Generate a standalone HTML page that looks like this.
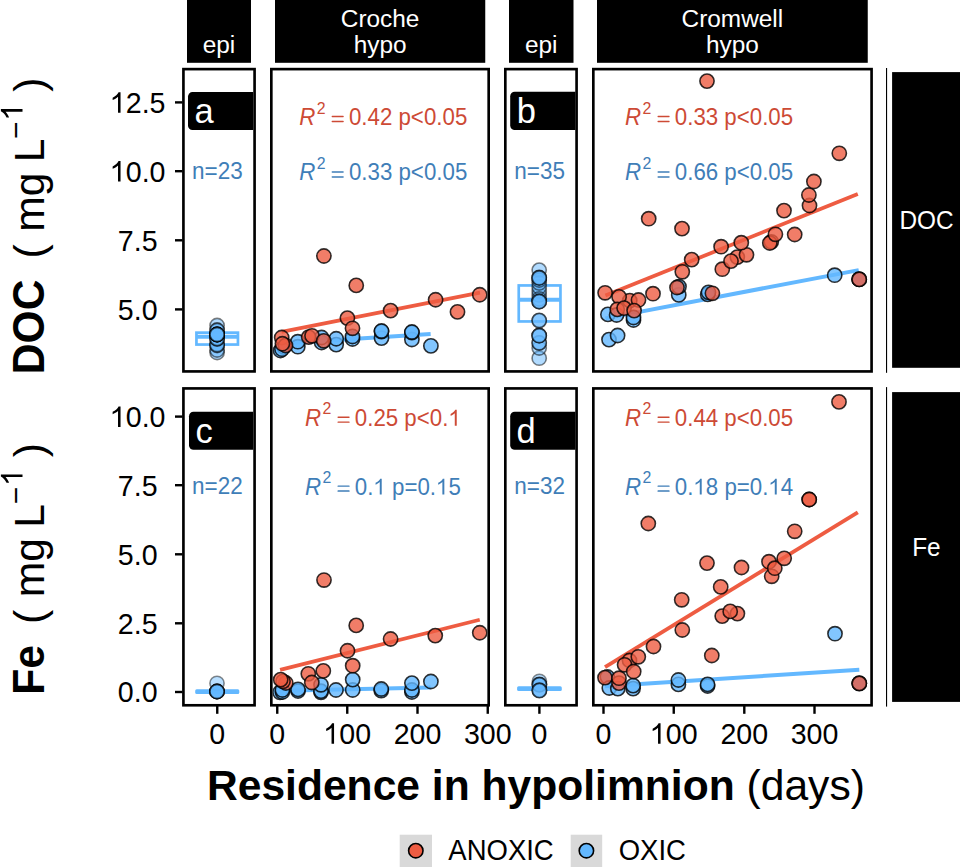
<!DOCTYPE html>
<html><head><meta charset="utf-8"><title>Residence in hypolimnion</title>
<style>html,body{margin:0;padding:0;background:#fff;}svg{display:block;font-family:"Liberation Sans", sans-serif;}</style></head><body>
<svg width="960" height="867" viewBox="0 0 960 867">
<rect x="0" y="0" width="960" height="867" fill="#fff"/>
<defs>
<clipPath id="c00"><rect x="184.75" y="70.45" width="68.50000000000001" height="299.65"/></clipPath>
<clipPath id="c01"><rect x="184.75" y="389.75" width="68.50000000000001" height="314.2"/></clipPath>
<clipPath id="c10"><rect x="272.65" y="70.45" width="214.7" height="299.65"/></clipPath>
<clipPath id="c11"><rect x="272.65" y="389.75" width="214.7" height="314.2"/></clipPath>
<clipPath id="c20"><rect x="506.65" y="70.45" width="68.59999999999998" height="299.65"/></clipPath>
<clipPath id="c21"><rect x="506.65" y="389.75" width="68.59999999999998" height="314.2"/></clipPath>
<clipPath id="c30"><rect x="594.65" y="70.45" width="275.59999999999997" height="299.65"/></clipPath>
<clipPath id="c31"><rect x="594.65" y="389.75" width="275.59999999999997" height="314.2"/></clipPath>
</defs>
<rect x="187" y="0" width="64" height="62.8" fill="#000"/>
<text x="219.0" y="52.9" font-size="24.4" fill="#fff" text-anchor="middle"  style="white-space:pre">epi</text>
<rect x="275" y="0" width="210.25" height="62.8" fill="#000"/>
<text x="380.125" y="27.0" font-size="24.4" fill="#fff" text-anchor="middle"  style="white-space:pre">Croche</text>
<text x="380.125" y="52.9" font-size="24.4" fill="#fff" text-anchor="middle"  style="white-space:pre">hypo</text>
<rect x="509" y="0" width="64.5" height="62.8" fill="#000"/>
<text x="541.25" y="52.9" font-size="24.4" fill="#fff" text-anchor="middle"  style="white-space:pre">epi</text>
<rect x="597" y="0" width="270.75" height="62.8" fill="#000"/>
<text x="732.375" y="27.0" font-size="24.4" fill="#fff" text-anchor="middle"  style="white-space:pre">Cromwell</text>
<text x="732.375" y="52.9" font-size="24.4" fill="#fff" text-anchor="middle"  style="white-space:pre">hypo</text>
<rect x="892.1" y="72.1" width="80" height="295.7" fill="#000"/>
<rect x="892.1" y="392.1" width="80" height="309.8" fill="#000"/>
<text x="926.5" y="228.7" font-size="24.4" fill="#fff" text-anchor="middle"  style="white-space:pre" transform="matrix(1 0 0 1.0407 0 -9.308)">DOC</text>
<text x="926.4" y="556" font-size="24.4" fill="#fff" text-anchor="middle"  style="white-space:pre" transform="matrix(1 0 0 1.0407 0 -22.629)">Fe</text>
<rect x="886" y="68" width="1.1" height="304.8" fill="#000"/>
<rect x="886" y="387.1" width="1.1" height="319.5" fill="#000"/>
<g fill="none" stroke="#63B8FF">
<rect x="196.45" y="332.65" width="41.5" height="11.9" stroke-width="2.7"/>
<line x1="196.45" y1="336.8" x2="237.95" y2="336.8" stroke-width="4"/>
<rect x="518.75" y="285.45" width="41.7" height="36.0" stroke-width="2.7"/>
<line x1="518.75" y1="299.8" x2="560.45" y2="299.8" stroke-width="4"/>
</g>
<rect x="195.2" y="689.2" width="44.1" height="4.7" rx="1.5" fill="#63B8FF"/>
<rect x="517.1" y="686.3" width="44.7" height="4.7" rx="1.5" fill="#63B8FF"/>
<circle cx="217.1" cy="325.5" r="7.12" fill="#63B8FF" fill-opacity="0.5" stroke="#000" stroke-opacity="0.5" stroke-width="1.6"/>
<circle cx="217.1" cy="352.5" r="7.12" fill="#63B8FF" fill-opacity="0.5" stroke="#000" stroke-opacity="0.5" stroke-width="1.6"/>
<circle cx="217.1" cy="350" r="7.12" fill="#63B8FF" fill-opacity="0.5" stroke="#000" stroke-opacity="0.5" stroke-width="1.6"/>
<circle cx="217.1" cy="345" r="7.12" fill="#63B8FF" fill-opacity="0.5" stroke="#000" stroke-opacity="0.5" stroke-width="1.6"/>
<circle cx="217.1" cy="345.5" r="7.12" fill="#63B8FF" fill-opacity="0.5" stroke="#000" stroke-opacity="0.5" stroke-width="1.6"/>
<circle cx="217.1" cy="344.5" r="7.12" fill="#63B8FF" fill-opacity="0.5" stroke="#000" stroke-opacity="0.5" stroke-width="1.6"/>
<circle cx="217.1" cy="330" r="7.12" fill="#63B8FF" fill-opacity="0.5" stroke="#000" stroke-opacity="0.5" stroke-width="1.6"/>
<circle cx="217.1" cy="330.5" r="7.12" fill="#63B8FF" fill-opacity="0.5" stroke="#000" stroke-opacity="0.5" stroke-width="1.6"/>
<circle cx="217.1" cy="338.7" r="7.12" fill="#63B8FF" fill-opacity="0.5" stroke="#000" stroke-opacity="0.5" stroke-width="1.6"/>
<circle cx="217.1" cy="339" r="7.12" fill="#63B8FF" fill-opacity="0.5" stroke="#000" stroke-opacity="0.5" stroke-width="1.6"/>
<circle cx="217.1" cy="338.4" r="7.12" fill="#63B8FF" fill-opacity="0.5" stroke="#000" stroke-opacity="0.5" stroke-width="1.6"/>
<circle cx="217.1" cy="334.5" r="7.12" fill="#63B8FF" fill-opacity="0.5" stroke="#000" stroke-opacity="0.5" stroke-width="1.6"/>
<circle cx="217.1" cy="334.5" r="7.12" fill="#63B8FF" fill-opacity="0.5" stroke="#000" stroke-opacity="0.5" stroke-width="1.6"/>
<circle cx="217.1" cy="334.3" r="7.12" fill="#63B8FF" fill-opacity="0.5" stroke="#000" stroke-opacity="0.5" stroke-width="1.6"/>
<circle cx="217.1" cy="334.7" r="7.12" fill="#63B8FF" fill-opacity="0.5" stroke="#000" stroke-opacity="0.5" stroke-width="1.6"/>
<circle cx="217.1" cy="334.5" r="7.12" fill="#63B8FF" fill-opacity="0.5" stroke="#000" stroke-opacity="0.5" stroke-width="1.6"/>
<circle cx="217.1" cy="334.5" r="7.12" fill="#63B8FF" fill-opacity="0.5" stroke="#000" stroke-opacity="0.5" stroke-width="1.6"/>
<circle cx="217.1" cy="334.5" r="7.12" fill="#63B8FF" fill-opacity="0.5" stroke="#000" stroke-opacity="0.5" stroke-width="1.6"/>
<circle cx="539.2" cy="270.1" r="7.12" fill="#63B8FF" fill-opacity="0.5" stroke="#000" stroke-opacity="0.5" stroke-width="1.6"/>
<circle cx="539.2" cy="358.2" r="7.12" fill="#63B8FF" fill-opacity="0.5" stroke="#000" stroke-opacity="0.5" stroke-width="1.6"/>
<circle cx="539.2" cy="348" r="7.12" fill="#63B8FF" fill-opacity="0.5" stroke="#000" stroke-opacity="0.5" stroke-width="1.6"/>
<circle cx="539.2" cy="343" r="7.12" fill="#63B8FF" fill-opacity="0.5" stroke="#000" stroke-opacity="0.5" stroke-width="1.6"/>
<circle cx="539.2" cy="342.8" r="7.12" fill="#63B8FF" fill-opacity="0.5" stroke="#000" stroke-opacity="0.5" stroke-width="1.6"/>
<circle cx="539.2" cy="335.5" r="7.12" fill="#63B8FF" fill-opacity="0.5" stroke="#000" stroke-opacity="0.5" stroke-width="1.6"/>
<circle cx="539.2" cy="335.5" r="7.12" fill="#63B8FF" fill-opacity="0.5" stroke="#000" stroke-opacity="0.5" stroke-width="1.6"/>
<circle cx="539.2" cy="335.7" r="7.12" fill="#63B8FF" fill-opacity="0.5" stroke="#000" stroke-opacity="0.5" stroke-width="1.6"/>
<circle cx="539.2" cy="320.3" r="7.12" fill="#63B8FF" fill-opacity="0.5" stroke="#000" stroke-opacity="0.5" stroke-width="1.6"/>
<circle cx="539.2" cy="320.6" r="7.12" fill="#63B8FF" fill-opacity="0.5" stroke="#000" stroke-opacity="0.5" stroke-width="1.6"/>
<circle cx="539.2" cy="295" r="7.12" fill="#63B8FF" fill-opacity="0.5" stroke="#000" stroke-opacity="0.5" stroke-width="1.6"/>
<circle cx="539.2" cy="291" r="7.12" fill="#63B8FF" fill-opacity="0.5" stroke="#000" stroke-opacity="0.5" stroke-width="1.6"/>
<circle cx="539.2" cy="287" r="7.12" fill="#63B8FF" fill-opacity="0.5" stroke="#000" stroke-opacity="0.5" stroke-width="1.6"/>
<circle cx="539.2" cy="283" r="7.12" fill="#63B8FF" fill-opacity="0.5" stroke="#000" stroke-opacity="0.5" stroke-width="1.6"/>
<circle cx="539.2" cy="280" r="7.12" fill="#63B8FF" fill-opacity="0.5" stroke="#000" stroke-opacity="0.5" stroke-width="1.6"/>
<circle cx="539.2" cy="299" r="7.12" fill="#63B8FF" fill-opacity="0.5" stroke="#000" stroke-opacity="0.5" stroke-width="1.6"/>
<circle cx="539.2" cy="301.5" r="7.12" fill="#63B8FF" fill-opacity="0.5" stroke="#000" stroke-opacity="0.5" stroke-width="1.6"/>
<circle cx="539.2" cy="301.5" r="7.12" fill="#63B8FF" fill-opacity="0.5" stroke="#000" stroke-opacity="0.5" stroke-width="1.6"/>
<circle cx="539.2" cy="301.6" r="7.12" fill="#63B8FF" fill-opacity="0.5" stroke="#000" stroke-opacity="0.5" stroke-width="1.6"/>
<circle cx="539.2" cy="277.5" r="7.12" fill="#63B8FF" fill-opacity="0.5" stroke="#000" stroke-opacity="0.5" stroke-width="1.6"/>
<circle cx="539.2" cy="277.7" r="7.12" fill="#63B8FF" fill-opacity="0.5" stroke="#000" stroke-opacity="0.5" stroke-width="1.6"/>
<circle cx="539.2" cy="278" r="7.12" fill="#63B8FF" fill-opacity="0.5" stroke="#000" stroke-opacity="0.5" stroke-width="1.6"/>
<circle cx="217" cy="683.3" r="7.12" fill="#63B8FF" fill-opacity="0.45" stroke="#000" stroke-opacity="0.45" stroke-width="1.6"/>
<circle cx="217" cy="691.5" r="7.12" fill="#63B8FF" fill-opacity="0.6" stroke="#000" stroke-opacity="0.6" stroke-width="1.6"/>
<circle cx="217" cy="691.5" r="7.12" fill="#63B8FF" fill-opacity="0.6" stroke="#000" stroke-opacity="0.6" stroke-width="1.6"/>
<circle cx="217" cy="691.5" r="7.12" fill="#63B8FF" fill-opacity="0.6" stroke="#000" stroke-opacity="0.6" stroke-width="1.6"/>
<circle cx="217" cy="691.5" r="7.12" fill="#63B8FF" fill-opacity="0.6" stroke="#000" stroke-opacity="0.6" stroke-width="1.6"/>
<circle cx="539.4" cy="681.3" r="7.12" fill="#63B8FF" fill-opacity="0.45" stroke="#000" stroke-opacity="0.45" stroke-width="1.6"/>
<circle cx="539.4" cy="684.3" r="7.12" fill="#63B8FF" fill-opacity="0.5" stroke="#000" stroke-opacity="0.5" stroke-width="1.6"/>
<circle cx="539.4" cy="684.6" r="7.12" fill="#63B8FF" fill-opacity="0.5" stroke="#000" stroke-opacity="0.5" stroke-width="1.6"/>
<circle cx="539.4" cy="684.8" r="7.12" fill="#63B8FF" fill-opacity="0.5" stroke="#000" stroke-opacity="0.5" stroke-width="1.6"/>
<circle cx="539.4" cy="690.2" r="7.12" fill="#63B8FF" fill-opacity="0.5" stroke="#000" stroke-opacity="0.5" stroke-width="1.6"/>
<circle cx="539.4" cy="690.4" r="7.12" fill="#63B8FF" fill-opacity="0.5" stroke="#000" stroke-opacity="0.5" stroke-width="1.6"/>
<circle cx="539.4" cy="690.6" r="7.12" fill="#63B8FF" fill-opacity="0.5" stroke="#000" stroke-opacity="0.5" stroke-width="1.6"/>
<line x1="281" y1="343.5" x2="430.6" y2="334.0" stroke="#63B8FF" stroke-width="4.0" stroke-linecap="butt"/>
<line x1="281.5" y1="331.9" x2="480" y2="292.6" stroke="#EE5C42" stroke-width="3.8" stroke-linecap="butt"/>
<line x1="605.4" y1="318.4" x2="858.7" y2="270.1" stroke="#63B8FF" stroke-width="4.0" stroke-linecap="butt"/>
<line x1="605.4" y1="295.6" x2="857.8" y2="193.9" stroke="#EE5C42" stroke-width="3.8" stroke-linecap="butt"/>
<line x1="281" y1="690.8" x2="430.6" y2="687.5" stroke="#63B8FF" stroke-width="4.0" stroke-linecap="butt"/>
<line x1="280.1" y1="669.8" x2="479.75" y2="619.75" stroke="#EE5C42" stroke-width="3.8" stroke-linecap="butt"/>
<line x1="605" y1="686.3" x2="859.3" y2="669.8" stroke="#63B8FF" stroke-width="4.0" stroke-linecap="butt"/>
<line x1="605" y1="667.2" x2="857.8" y2="512.4" stroke="#EE5C42" stroke-width="3.8" stroke-linecap="butt"/>
<g clip-path="url(#c10)">
<circle cx="280.5" cy="350.5" r="7.12" fill="#63B8FF" fill-opacity="0.8" stroke="#000" stroke-opacity="0.8" stroke-width="1.6"/>
<circle cx="284" cy="347" r="7.12" fill="#63B8FF" fill-opacity="0.8" stroke="#000" stroke-opacity="0.8" stroke-width="1.6"/>
<circle cx="282" cy="349.2" r="7.12" fill="#63B8FF" fill-opacity="0.8" stroke="#000" stroke-opacity="0.8" stroke-width="1.6"/>
<circle cx="297.8" cy="346.7" r="7.12" fill="#63B8FF" fill-opacity="0.8" stroke="#000" stroke-opacity="0.8" stroke-width="1.6"/>
<circle cx="297.8" cy="341.7" r="7.12" fill="#63B8FF" fill-opacity="0.8" stroke="#000" stroke-opacity="0.8" stroke-width="1.6"/>
<circle cx="321.6" cy="342.5" r="7.12" fill="#63B8FF" fill-opacity="0.8" stroke="#000" stroke-opacity="0.8" stroke-width="1.6"/>
<circle cx="321.6" cy="337.5" r="7.12" fill="#63B8FF" fill-opacity="0.8" stroke="#000" stroke-opacity="0.8" stroke-width="1.6"/>
<circle cx="336.2" cy="344.6" r="7.12" fill="#63B8FF" fill-opacity="0.8" stroke="#000" stroke-opacity="0.8" stroke-width="1.6"/>
<circle cx="336.2" cy="338.75" r="7.12" fill="#63B8FF" fill-opacity="0.8" stroke="#000" stroke-opacity="0.8" stroke-width="1.6"/>
<circle cx="352.5" cy="339" r="7.12" fill="#63B8FF" fill-opacity="0.8" stroke="#000" stroke-opacity="0.8" stroke-width="1.6"/>
<circle cx="352.5" cy="336.5" r="7.12" fill="#63B8FF" fill-opacity="0.8" stroke="#000" stroke-opacity="0.8" stroke-width="1.6"/>
<circle cx="381.5" cy="338.1" r="7.12" fill="#63B8FF" fill-opacity="0.8" stroke="#000" stroke-opacity="0.8" stroke-width="1.6"/>
<circle cx="381.5" cy="331.6" r="7.12" fill="#63B8FF" fill-opacity="0.8" stroke="#000" stroke-opacity="0.8" stroke-width="1.6"/>
<circle cx="381.5" cy="331.0" r="7.12" fill="#63B8FF" fill-opacity="0.8" stroke="#000" stroke-opacity="0.8" stroke-width="1.6"/>
<circle cx="411.9" cy="339.5" r="7.12" fill="#63B8FF" fill-opacity="0.8" stroke="#000" stroke-opacity="0.8" stroke-width="1.6"/>
<circle cx="411.9" cy="332.6" r="7.12" fill="#63B8FF" fill-opacity="0.8" stroke="#000" stroke-opacity="0.8" stroke-width="1.6"/>
<circle cx="411.9" cy="332.0" r="7.12" fill="#63B8FF" fill-opacity="0.8" stroke="#000" stroke-opacity="0.8" stroke-width="1.6"/>
<circle cx="430.9" cy="345.9" r="7.12" fill="#63B8FF" fill-opacity="0.8" stroke="#000" stroke-opacity="0.8" stroke-width="1.6"/>
<circle cx="281.7" cy="337.5" r="7.12" fill="#EE5C42" fill-opacity="0.8" stroke="#000" stroke-opacity="0.8" stroke-width="1.6"/>
<circle cx="285.5" cy="345.5" r="7.12" fill="#EE5C42" fill-opacity="0.8" stroke="#000" stroke-opacity="0.8" stroke-width="1.6"/>
<circle cx="282.4" cy="343.75" r="7.12" fill="#EE5C42" fill-opacity="0.8" stroke="#000" stroke-opacity="0.8" stroke-width="1.6"/>
<circle cx="308.7" cy="337.1" r="7.12" fill="#EE5C42" fill-opacity="0.8" stroke="#000" stroke-opacity="0.8" stroke-width="1.6"/>
<circle cx="312" cy="335.8" r="7.12" fill="#EE5C42" fill-opacity="0.8" stroke="#000" stroke-opacity="0.8" stroke-width="1.6"/>
<circle cx="323.7" cy="340.8" r="7.12" fill="#EE5C42" fill-opacity="0.8" stroke="#000" stroke-opacity="0.8" stroke-width="1.6"/>
<circle cx="347.4" cy="318.1" r="7.12" fill="#EE5C42" fill-opacity="0.8" stroke="#000" stroke-opacity="0.8" stroke-width="1.6"/>
<circle cx="352.5" cy="328.3" r="7.12" fill="#EE5C42" fill-opacity="0.8" stroke="#000" stroke-opacity="0.8" stroke-width="1.6"/>
<circle cx="323.9" cy="256" r="7.12" fill="#EE5C42" fill-opacity="0.8" stroke="#000" stroke-opacity="0.8" stroke-width="1.6"/>
<circle cx="356.25" cy="285.4" r="7.12" fill="#EE5C42" fill-opacity="0.8" stroke="#000" stroke-opacity="0.8" stroke-width="1.6"/>
<circle cx="390.6" cy="310.6" r="7.12" fill="#EE5C42" fill-opacity="0.8" stroke="#000" stroke-opacity="0.8" stroke-width="1.6"/>
<circle cx="435.6" cy="299.75" r="7.12" fill="#EE5C42" fill-opacity="0.8" stroke="#000" stroke-opacity="0.8" stroke-width="1.6"/>
<circle cx="457.5" cy="311.9" r="7.12" fill="#EE5C42" fill-opacity="0.8" stroke="#000" stroke-opacity="0.8" stroke-width="1.6"/>
<circle cx="479.75" cy="294.75" r="7.12" fill="#EE5C42" fill-opacity="0.8" stroke="#000" stroke-opacity="0.8" stroke-width="1.6"/>
</g>
<g clip-path="url(#c30)">
<circle cx="609" cy="339.6" r="7.12" fill="#63B8FF" fill-opacity="0.8" stroke="#000" stroke-opacity="0.8" stroke-width="1.6"/>
<circle cx="617.6" cy="335.5" r="7.12" fill="#63B8FF" fill-opacity="0.8" stroke="#000" stroke-opacity="0.8" stroke-width="1.6"/>
<circle cx="607.9" cy="314.4" r="7.12" fill="#63B8FF" fill-opacity="0.8" stroke="#000" stroke-opacity="0.8" stroke-width="1.6"/>
<circle cx="616.6" cy="315" r="7.12" fill="#63B8FF" fill-opacity="0.8" stroke="#000" stroke-opacity="0.8" stroke-width="1.6"/>
<circle cx="633.5" cy="320" r="7.12" fill="#63B8FF" fill-opacity="0.8" stroke="#000" stroke-opacity="0.8" stroke-width="1.6"/>
<circle cx="633.5" cy="317.5" r="7.12" fill="#63B8FF" fill-opacity="0.8" stroke="#000" stroke-opacity="0.8" stroke-width="1.6"/>
<circle cx="678.75" cy="294.9" r="7.12" fill="#63B8FF" fill-opacity="0.8" stroke="#000" stroke-opacity="0.8" stroke-width="1.6"/>
<circle cx="679" cy="286.6" r="7.12" fill="#63B8FF" fill-opacity="0.8" stroke="#000" stroke-opacity="0.8" stroke-width="1.6"/>
<circle cx="707.7" cy="294.4" r="7.12" fill="#63B8FF" fill-opacity="0.8" stroke="#000" stroke-opacity="0.8" stroke-width="1.6"/>
<circle cx="708.5" cy="292.3" r="7.12" fill="#63B8FF" fill-opacity="0.8" stroke="#000" stroke-opacity="0.8" stroke-width="1.6"/>
<circle cx="834.7" cy="275.2" r="7.12" fill="#63B8FF" fill-opacity="0.8" stroke="#000" stroke-opacity="0.8" stroke-width="1.6"/>
<circle cx="859.1" cy="279.2" r="7.12" fill="#63B8FF" fill-opacity="0.8" stroke="#000" stroke-opacity="0.8" stroke-width="1.6"/>
<circle cx="859.3" cy="279.4" r="7.12" fill="#63B8FF" fill-opacity="0.8" stroke="#000" stroke-opacity="0.8" stroke-width="1.6"/>
<circle cx="605.1" cy="292.8" r="7.12" fill="#EE5C42" fill-opacity="0.8" stroke="#000" stroke-opacity="0.8" stroke-width="1.6"/>
<circle cx="629.75" cy="300.6" r="7.12" fill="#EE5C42" fill-opacity="0.8" stroke="#000" stroke-opacity="0.8" stroke-width="1.6"/>
<circle cx="619.1" cy="296.9" r="7.12" fill="#EE5C42" fill-opacity="0.8" stroke="#000" stroke-opacity="0.8" stroke-width="1.6"/>
<circle cx="638.5" cy="300" r="7.12" fill="#EE5C42" fill-opacity="0.8" stroke="#000" stroke-opacity="0.8" stroke-width="1.6"/>
<circle cx="617.25" cy="309.4" r="7.12" fill="#EE5C42" fill-opacity="0.8" stroke="#000" stroke-opacity="0.8" stroke-width="1.6"/>
<circle cx="624.1" cy="308.1" r="7.12" fill="#EE5C42" fill-opacity="0.8" stroke="#000" stroke-opacity="0.8" stroke-width="1.6"/>
<circle cx="634.1" cy="310.6" r="7.12" fill="#EE5C42" fill-opacity="0.8" stroke="#000" stroke-opacity="0.8" stroke-width="1.6"/>
<circle cx="653" cy="293.7" r="7.12" fill="#EE5C42" fill-opacity="0.8" stroke="#000" stroke-opacity="0.8" stroke-width="1.6"/>
<circle cx="677" cy="287.5" r="7.12" fill="#EE5C42" fill-opacity="0.8" stroke="#000" stroke-opacity="0.8" stroke-width="1.6"/>
<circle cx="682.3" cy="271.8" r="7.12" fill="#EE5C42" fill-opacity="0.8" stroke="#000" stroke-opacity="0.8" stroke-width="1.6"/>
<circle cx="691.7" cy="259.6" r="7.12" fill="#EE5C42" fill-opacity="0.8" stroke="#000" stroke-opacity="0.8" stroke-width="1.6"/>
<circle cx="682" cy="228.6" r="7.12" fill="#EE5C42" fill-opacity="0.8" stroke="#000" stroke-opacity="0.8" stroke-width="1.6"/>
<circle cx="648.7" cy="218.7" r="7.12" fill="#EE5C42" fill-opacity="0.8" stroke="#000" stroke-opacity="0.8" stroke-width="1.6"/>
<circle cx="712.4" cy="293.3" r="7.12" fill="#EE5C42" fill-opacity="0.8" stroke="#000" stroke-opacity="0.8" stroke-width="1.6"/>
<circle cx="721.1" cy="246.7" r="7.12" fill="#EE5C42" fill-opacity="0.8" stroke="#000" stroke-opacity="0.8" stroke-width="1.6"/>
<circle cx="722.3" cy="269.2" r="7.12" fill="#EE5C42" fill-opacity="0.8" stroke="#000" stroke-opacity="0.8" stroke-width="1.6"/>
<circle cx="737.3" cy="257.1" r="7.12" fill="#EE5C42" fill-opacity="0.8" stroke="#000" stroke-opacity="0.8" stroke-width="1.6"/>
<circle cx="731" cy="261.1" r="7.12" fill="#EE5C42" fill-opacity="0.8" stroke="#000" stroke-opacity="0.8" stroke-width="1.6"/>
<circle cx="746.5" cy="254.8" r="7.12" fill="#EE5C42" fill-opacity="0.8" stroke="#000" stroke-opacity="0.8" stroke-width="1.6"/>
<circle cx="741.3" cy="242.7" r="7.12" fill="#EE5C42" fill-opacity="0.8" stroke="#000" stroke-opacity="0.8" stroke-width="1.6"/>
<circle cx="771.3" cy="241.8" r="7.12" fill="#EE5C42" fill-opacity="0.8" stroke="#000" stroke-opacity="0.8" stroke-width="1.6"/>
<circle cx="769.8" cy="243" r="7.12" fill="#EE5C42" fill-opacity="0.8" stroke="#000" stroke-opacity="0.8" stroke-width="1.6"/>
<circle cx="775.4" cy="234.3" r="7.12" fill="#EE5C42" fill-opacity="0.8" stroke="#000" stroke-opacity="0.8" stroke-width="1.6"/>
<circle cx="784" cy="210.6" r="7.12" fill="#EE5C42" fill-opacity="0.8" stroke="#000" stroke-opacity="0.8" stroke-width="1.6"/>
<circle cx="794.7" cy="234.5" r="7.12" fill="#EE5C42" fill-opacity="0.8" stroke="#000" stroke-opacity="0.8" stroke-width="1.6"/>
<circle cx="809.5" cy="205.5" r="7.12" fill="#EE5C42" fill-opacity="0.8" stroke="#000" stroke-opacity="0.8" stroke-width="1.6"/>
<circle cx="808.9" cy="195" r="7.12" fill="#EE5C42" fill-opacity="0.8" stroke="#000" stroke-opacity="0.8" stroke-width="1.6"/>
<circle cx="813.9" cy="181.5" r="7.12" fill="#EE5C42" fill-opacity="0.8" stroke="#000" stroke-opacity="0.8" stroke-width="1.6"/>
<circle cx="839.3" cy="153.3" r="7.12" fill="#EE5C42" fill-opacity="0.8" stroke="#000" stroke-opacity="0.8" stroke-width="1.6"/>
<circle cx="859.2" cy="279.4" r="7.12" fill="#EE5C42" fill-opacity="0.8" stroke="#000" stroke-opacity="0.8" stroke-width="1.6"/>
<circle cx="707" cy="81.1" r="7.12" fill="#EE5C42" fill-opacity="0.8" stroke="#000" stroke-opacity="0.8" stroke-width="1.6"/>
</g>
<g clip-path="url(#c11)">
<circle cx="280" cy="692.3" r="7.12" fill="#63B8FF" fill-opacity="0.8" stroke="#000" stroke-opacity="0.8" stroke-width="1.6"/>
<circle cx="282.4" cy="692" r="7.12" fill="#63B8FF" fill-opacity="0.8" stroke="#000" stroke-opacity="0.8" stroke-width="1.6"/>
<circle cx="282.4" cy="690" r="7.12" fill="#63B8FF" fill-opacity="0.8" stroke="#000" stroke-opacity="0.8" stroke-width="1.6"/>
<circle cx="298" cy="691" r="7.12" fill="#63B8FF" fill-opacity="0.8" stroke="#000" stroke-opacity="0.8" stroke-width="1.6"/>
<circle cx="298" cy="689.4" r="7.12" fill="#63B8FF" fill-opacity="0.8" stroke="#000" stroke-opacity="0.8" stroke-width="1.6"/>
<circle cx="321" cy="692.3" r="7.12" fill="#63B8FF" fill-opacity="0.8" stroke="#000" stroke-opacity="0.8" stroke-width="1.6"/>
<circle cx="321" cy="691.1" r="7.12" fill="#63B8FF" fill-opacity="0.8" stroke="#000" stroke-opacity="0.8" stroke-width="1.6"/>
<circle cx="321" cy="684.8" r="7.12" fill="#63B8FF" fill-opacity="0.8" stroke="#000" stroke-opacity="0.8" stroke-width="1.6"/>
<circle cx="336" cy="690" r="7.12" fill="#63B8FF" fill-opacity="0.8" stroke="#000" stroke-opacity="0.8" stroke-width="1.6"/>
<circle cx="352.7" cy="690" r="7.12" fill="#63B8FF" fill-opacity="0.8" stroke="#000" stroke-opacity="0.8" stroke-width="1.6"/>
<circle cx="352.7" cy="679.6" r="7.12" fill="#63B8FF" fill-opacity="0.8" stroke="#000" stroke-opacity="0.8" stroke-width="1.6"/>
<circle cx="381.25" cy="690.6" r="7.12" fill="#63B8FF" fill-opacity="0.8" stroke="#000" stroke-opacity="0.8" stroke-width="1.6"/>
<circle cx="381.25" cy="689" r="7.12" fill="#63B8FF" fill-opacity="0.8" stroke="#000" stroke-opacity="0.8" stroke-width="1.6"/>
<circle cx="411.9" cy="692" r="7.12" fill="#63B8FF" fill-opacity="0.8" stroke="#000" stroke-opacity="0.8" stroke-width="1.6"/>
<circle cx="411.9" cy="690" r="7.12" fill="#63B8FF" fill-opacity="0.8" stroke="#000" stroke-opacity="0.8" stroke-width="1.6"/>
<circle cx="411.9" cy="683.1" r="7.12" fill="#63B8FF" fill-opacity="0.8" stroke="#000" stroke-opacity="0.8" stroke-width="1.6"/>
<circle cx="430.9" cy="681.5" r="7.12" fill="#63B8FF" fill-opacity="0.8" stroke="#000" stroke-opacity="0.8" stroke-width="1.6"/>
<circle cx="324" cy="580.05" r="7.12" fill="#EE5C42" fill-opacity="0.8" stroke="#000" stroke-opacity="0.8" stroke-width="1.6"/>
<circle cx="285.8" cy="683" r="7.12" fill="#EE5C42" fill-opacity="0.8" stroke="#000" stroke-opacity="0.8" stroke-width="1.6"/>
<circle cx="283" cy="681.3" r="7.12" fill="#EE5C42" fill-opacity="0.8" stroke="#000" stroke-opacity="0.8" stroke-width="1.6"/>
<circle cx="280.7" cy="679.6" r="7.12" fill="#EE5C42" fill-opacity="0.8" stroke="#000" stroke-opacity="0.8" stroke-width="1.6"/>
<circle cx="308.3" cy="673.8" r="7.12" fill="#EE5C42" fill-opacity="0.8" stroke="#000" stroke-opacity="0.8" stroke-width="1.6"/>
<circle cx="323.3" cy="670.9" r="7.12" fill="#EE5C42" fill-opacity="0.8" stroke="#000" stroke-opacity="0.8" stroke-width="1.6"/>
<circle cx="311.8" cy="682.5" r="7.12" fill="#EE5C42" fill-opacity="0.8" stroke="#000" stroke-opacity="0.8" stroke-width="1.6"/>
<circle cx="352.7" cy="665.7" r="7.12" fill="#EE5C42" fill-opacity="0.8" stroke="#000" stroke-opacity="0.8" stroke-width="1.6"/>
<circle cx="347.5" cy="650.75" r="7.12" fill="#EE5C42" fill-opacity="0.8" stroke="#000" stroke-opacity="0.8" stroke-width="1.6"/>
<circle cx="356.2" cy="625.4" r="7.12" fill="#EE5C42" fill-opacity="0.8" stroke="#000" stroke-opacity="0.8" stroke-width="1.6"/>
<circle cx="390.6" cy="639" r="7.12" fill="#EE5C42" fill-opacity="0.8" stroke="#000" stroke-opacity="0.8" stroke-width="1.6"/>
<circle cx="435.25" cy="635.6" r="7.12" fill="#EE5C42" fill-opacity="0.8" stroke="#000" stroke-opacity="0.8" stroke-width="1.6"/>
<circle cx="479.75" cy="632.75" r="7.12" fill="#EE5C42" fill-opacity="0.8" stroke="#000" stroke-opacity="0.8" stroke-width="1.6"/>
</g>
<g clip-path="url(#c31)">
<circle cx="607.4" cy="677" r="7.12" fill="#63B8FF" fill-opacity="0.8" stroke="#000" stroke-opacity="0.8" stroke-width="1.6"/>
<circle cx="609.3" cy="688" r="7.12" fill="#63B8FF" fill-opacity="0.8" stroke="#000" stroke-opacity="0.8" stroke-width="1.6"/>
<circle cx="617.8" cy="688.6" r="7.12" fill="#63B8FF" fill-opacity="0.8" stroke="#000" stroke-opacity="0.8" stroke-width="1.6"/>
<circle cx="633.1" cy="688.6" r="7.12" fill="#63B8FF" fill-opacity="0.8" stroke="#000" stroke-opacity="0.8" stroke-width="1.6"/>
<circle cx="633.1" cy="685.6" r="7.12" fill="#63B8FF" fill-opacity="0.8" stroke="#000" stroke-opacity="0.8" stroke-width="1.6"/>
<circle cx="678.4" cy="684.4" r="7.12" fill="#63B8FF" fill-opacity="0.8" stroke="#000" stroke-opacity="0.8" stroke-width="1.6"/>
<circle cx="678.4" cy="680" r="7.12" fill="#63B8FF" fill-opacity="0.8" stroke="#000" stroke-opacity="0.8" stroke-width="1.6"/>
<circle cx="707.6" cy="686" r="7.12" fill="#63B8FF" fill-opacity="0.8" stroke="#000" stroke-opacity="0.8" stroke-width="1.6"/>
<circle cx="707.6" cy="684.4" r="7.12" fill="#63B8FF" fill-opacity="0.8" stroke="#000" stroke-opacity="0.8" stroke-width="1.6"/>
<circle cx="835" cy="633.7" r="7.12" fill="#63B8FF" fill-opacity="0.8" stroke="#000" stroke-opacity="0.8" stroke-width="1.6"/>
<circle cx="859.3" cy="683.2" r="7.12" fill="#63B8FF" fill-opacity="0.8" stroke="#000" stroke-opacity="0.8" stroke-width="1.6"/>
<circle cx="859.3" cy="683.6" r="7.12" fill="#63B8FF" fill-opacity="0.8" stroke="#000" stroke-opacity="0.8" stroke-width="1.6"/>
<circle cx="605" cy="677.6" r="7.12" fill="#EE5C42" fill-opacity="0.8" stroke="#000" stroke-opacity="0.8" stroke-width="1.6"/>
<circle cx="619" cy="683.1" r="7.12" fill="#EE5C42" fill-opacity="0.8" stroke="#000" stroke-opacity="0.8" stroke-width="1.6"/>
<circle cx="619" cy="678.2" r="7.12" fill="#EE5C42" fill-opacity="0.8" stroke="#000" stroke-opacity="0.8" stroke-width="1.6"/>
<circle cx="629.5" cy="660.5" r="7.12" fill="#EE5C42" fill-opacity="0.8" stroke="#000" stroke-opacity="0.8" stroke-width="1.6"/>
<circle cx="624.6" cy="664.8" r="7.12" fill="#EE5C42" fill-opacity="0.8" stroke="#000" stroke-opacity="0.8" stroke-width="1.6"/>
<circle cx="638.3" cy="656.8" r="7.12" fill="#EE5C42" fill-opacity="0.8" stroke="#000" stroke-opacity="0.8" stroke-width="1.6"/>
<circle cx="633.7" cy="671.5" r="7.12" fill="#EE5C42" fill-opacity="0.8" stroke="#000" stroke-opacity="0.8" stroke-width="1.6"/>
<circle cx="653.5" cy="646.5" r="7.12" fill="#EE5C42" fill-opacity="0.8" stroke="#000" stroke-opacity="0.8" stroke-width="1.6"/>
<circle cx="682.3" cy="630" r="7.12" fill="#EE5C42" fill-opacity="0.8" stroke="#000" stroke-opacity="0.8" stroke-width="1.6"/>
<circle cx="681.7" cy="599.8" r="7.12" fill="#EE5C42" fill-opacity="0.8" stroke="#000" stroke-opacity="0.8" stroke-width="1.6"/>
<circle cx="711.8" cy="655.5" r="7.12" fill="#EE5C42" fill-opacity="0.8" stroke="#000" stroke-opacity="0.8" stroke-width="1.6"/>
<circle cx="722.2" cy="616.1" r="7.12" fill="#EE5C42" fill-opacity="0.8" stroke="#000" stroke-opacity="0.8" stroke-width="1.6"/>
<circle cx="737.4" cy="613.6" r="7.12" fill="#EE5C42" fill-opacity="0.8" stroke="#000" stroke-opacity="0.8" stroke-width="1.6"/>
<circle cx="730.2" cy="611.4" r="7.12" fill="#EE5C42" fill-opacity="0.8" stroke="#000" stroke-opacity="0.8" stroke-width="1.6"/>
<circle cx="648.3" cy="523.5" r="7.12" fill="#EE5C42" fill-opacity="0.8" stroke="#000" stroke-opacity="0.8" stroke-width="1.6"/>
<circle cx="707" cy="563.1" r="7.12" fill="#EE5C42" fill-opacity="0.8" stroke="#000" stroke-opacity="0.8" stroke-width="1.6"/>
<circle cx="720.7" cy="586.9" r="7.12" fill="#EE5C42" fill-opacity="0.8" stroke="#000" stroke-opacity="0.8" stroke-width="1.6"/>
<circle cx="741.5" cy="567.5" r="7.12" fill="#EE5C42" fill-opacity="0.8" stroke="#000" stroke-opacity="0.8" stroke-width="1.6"/>
<circle cx="771.7" cy="576.3" r="7.12" fill="#EE5C42" fill-opacity="0.8" stroke="#000" stroke-opacity="0.8" stroke-width="1.6"/>
<circle cx="769" cy="561.7" r="7.12" fill="#EE5C42" fill-opacity="0.8" stroke="#000" stroke-opacity="0.8" stroke-width="1.6"/>
<circle cx="774.8" cy="568.2" r="7.12" fill="#EE5C42" fill-opacity="0.8" stroke="#000" stroke-opacity="0.8" stroke-width="1.6"/>
<circle cx="784.2" cy="558.3" r="7.12" fill="#EE5C42" fill-opacity="0.8" stroke="#000" stroke-opacity="0.8" stroke-width="1.6"/>
<circle cx="794.7" cy="531.3" r="7.12" fill="#EE5C42" fill-opacity="0.8" stroke="#000" stroke-opacity="0.8" stroke-width="1.6"/>
<circle cx="809.2" cy="499.5" r="7.12" fill="#EE5C42" fill-opacity="0.8" stroke="#000" stroke-opacity="0.8" stroke-width="1.6"/>
<circle cx="809.2" cy="499.5" r="7.12" fill="#EE5C42" fill-opacity="0.8" stroke="#000" stroke-opacity="0.8" stroke-width="1.6"/>
<circle cx="839" cy="401.9" r="7.12" fill="#EE5C42" fill-opacity="0.8" stroke="#000" stroke-opacity="0.8" stroke-width="1.6"/>
<circle cx="859.3" cy="683.4" r="7.12" fill="#EE5C42" fill-opacity="0.8" stroke="#000" stroke-opacity="0.8" stroke-width="1.6"/>
</g>
<defs>
<clipPath id="cla"><rect x="180" y="80" width="73.2" height="60"/></clipPath>
<clipPath id="clb"><rect x="500" y="80" width="75.4" height="60"/></clipPath>
<clipPath id="clc"><rect x="180" y="400" width="73.2" height="60"/></clipPath>
<clipPath id="cld"><rect x="500" y="400" width="75.4" height="60"/></clipPath>
</defs>
<g clip-path="url(#cla)"><rect x="188" y="92.1" width="75.19999999999999" height="37.900000000000006" rx="4.5" fill="#000"/></g>
<text x="194.5" y="123.0" font-size="34.5" fill="#fff"  style="white-space:pre">a</text>
<g clip-path="url(#clb)"><rect x="510.2" y="91.8" width="75.30000000000001" height="38.2" rx="4.5" fill="#000"/></g>
<text x="516.8" y="122.9" font-size="34.5" fill="#fff"  style="white-space:pre">b</text>
<g clip-path="url(#clc)"><rect x="189" y="411.7" width="74.19999999999999" height="38.10000000000002" rx="4.5" fill="#000"/></g>
<text x="195.5" y="443.2" font-size="34.5" fill="#fff"  style="white-space:pre">c</text>
<g clip-path="url(#cld)"><rect x="510.2" y="411.7" width="75.30000000000001" height="38.10000000000002" rx="4.5" fill="#000"/></g>
<text x="516.45" y="443.0" font-size="34.5" fill="#fff"  style="white-space:pre">d</text>
<rect x="183.42499999999998" y="69.125" width="71.15" height="302.3" fill="none" stroke="#000" stroke-width="2.65"/>
<rect x="183.42499999999998" y="388.425" width="71.15" height="316.85" fill="none" stroke="#000" stroke-width="2.65"/>
<rect x="271.325" y="69.125" width="217.35" height="302.3" fill="none" stroke="#000" stroke-width="2.65"/>
<rect x="271.325" y="388.425" width="217.35" height="316.85" fill="none" stroke="#000" stroke-width="2.65"/>
<rect x="505.325" y="69.125" width="71.24999999999997" height="302.3" fill="none" stroke="#000" stroke-width="2.65"/>
<rect x="505.325" y="388.425" width="71.24999999999997" height="316.85" fill="none" stroke="#000" stroke-width="2.65"/>
<rect x="593.325" y="69.125" width="278.25" height="302.3" fill="none" stroke="#000" stroke-width="2.65"/>
<rect x="593.325" y="388.425" width="278.25" height="316.85" fill="none" stroke="#000" stroke-width="2.65"/>
<g fill="#CD4A35"><text x="299.2" y="125.0" font-size="22.3" fill="#CD4A35" font-style="italic" style="white-space:pre" transform="matrix(1 0 0 1.0407 0 -5.087)">R</text><text x="316.7" y="113.7" font-size="15.9" fill="#CD4A35"  style="white-space:pre" transform="matrix(1 0 0 1.0407 0 -4.628)">2</text><rect x="331.60" y="115.82" width="12.15" height="1.36" rx="0.6"/><rect x="331.60" y="120.77" width="12.15" height="1.36" rx="0.6"/><text x="348.9" y="125.0" font-size="22.3" fill="#CD4A35"  style="white-space:pre" transform="matrix(1 0 0 1.0407 0 -5.087)">0.42 p&lt;0.05</text></g>
<g fill="#3F7EB8"><text x="299.2" y="180.5" font-size="22.3" fill="#3F7EB8" font-style="italic" style="white-space:pre" transform="matrix(1 0 0 1.0407 0 -7.346)">R</text><text x="316.7" y="169.2" font-size="15.9" fill="#3F7EB8"  style="white-space:pre" transform="matrix(1 0 0 1.0407 0 -6.886)">2</text><rect x="331.60" y="171.32" width="12.15" height="1.36" rx="0.6"/><rect x="331.60" y="176.27" width="12.15" height="1.36" rx="0.6"/><text x="348.9" y="180.5" font-size="22.3" fill="#3F7EB8"  style="white-space:pre" transform="matrix(1 0 0 1.0407 0 -7.346)">0.33 p&lt;0.05</text></g>
<g fill="#CD4A35"><text x="625.0999999999999" y="125.0" font-size="22.3" fill="#CD4A35" font-style="italic" style="white-space:pre" transform="matrix(1 0 0 1.0407 0 -5.087)">R</text><text x="642.5999999999999" y="113.7" font-size="15.9" fill="#CD4A35"  style="white-space:pre" transform="matrix(1 0 0 1.0407 0 -4.628)">2</text><rect x="657.50" y="115.82" width="12.15" height="1.36" rx="0.6"/><rect x="657.50" y="120.77" width="12.15" height="1.36" rx="0.6"/><text x="674.8" y="125.0" font-size="22.3" fill="#CD4A35"  style="white-space:pre" transform="matrix(1 0 0 1.0407 0 -5.087)">0.33 p&lt;0.05</text></g>
<g fill="#3F7EB8"><text x="625.0999999999999" y="180.5" font-size="22.3" fill="#3F7EB8" font-style="italic" style="white-space:pre" transform="matrix(1 0 0 1.0407 0 -7.346)">R</text><text x="642.5999999999999" y="169.2" font-size="15.9" fill="#3F7EB8"  style="white-space:pre" transform="matrix(1 0 0 1.0407 0 -6.886)">2</text><rect x="657.50" y="171.32" width="12.15" height="1.36" rx="0.6"/><rect x="657.50" y="176.27" width="12.15" height="1.36" rx="0.6"/><text x="674.8" y="180.5" font-size="22.3" fill="#3F7EB8"  style="white-space:pre" transform="matrix(1 0 0 1.0407 0 -7.346)">0.66 p&lt;0.05</text></g>
<g fill="#CD4A35"><text x="305.1" y="425.7" font-size="22.3" fill="#CD4A35" font-style="italic" style="white-space:pre" transform="matrix(1 0 0 1.0407 0 -17.326)">R</text><text x="322.6" y="414.4" font-size="15.9" fill="#CD4A35"  style="white-space:pre" transform="matrix(1 0 0 1.0407 0 -16.866)">2</text><rect x="337.50" y="416.52" width="12.15" height="1.36" rx="0.6"/><rect x="337.50" y="421.47" width="12.15" height="1.36" rx="0.6"/><text x="354.8" y="425.7" font-size="22.3" fill="#CD4A35"  style="white-space:pre" transform="matrix(1 0 0 1.0407 0 -17.326)">0.25 p&lt;0.</text><path d="M0.373,0 L0.285,0 L0.285,0.56 C0.262,0.538 0.232,0.516 0.195,0.494 C0.158,0.472 0.125,0.456 0.097,0.445 L0.097,0.53 C0.145,0.553 0.188,0.581 0.225,0.614 C0.262,0.647 0.289,0.681 0.304,0.716 L0.373,0.716 Z" fill="#CD4A35" transform="translate(448.42,425.7) scale(22.3,-22.3)"/></g>
<g fill="#3F7EB8"><text x="305.1" y="494.6" font-size="22.3" fill="#3F7EB8" font-style="italic" style="white-space:pre" transform="matrix(1 0 0 1.0407 0 -20.130)">R</text><text x="322.6" y="483.3" font-size="15.9" fill="#3F7EB8"  style="white-space:pre" transform="matrix(1 0 0 1.0407 0 -19.670)">2</text><rect x="337.50" y="485.42" width="12.15" height="1.36" rx="0.6"/><rect x="337.50" y="490.37" width="12.15" height="1.36" rx="0.6"/><text x="354.8" y="494.6" font-size="22.3" fill="#3F7EB8"  style="white-space:pre" transform="matrix(1 0 0 1.0407 0 -20.130)">0.</text><path d="M0.373,0 L0.285,0 L0.285,0.56 C0.262,0.538 0.232,0.516 0.195,0.494 C0.158,0.472 0.125,0.456 0.097,0.445 L0.097,0.53 C0.145,0.553 0.188,0.581 0.225,0.614 C0.262,0.647 0.289,0.681 0.304,0.716 L0.373,0.716 Z" fill="#3F7EB8" transform="translate(373.40,494.6) scale(22.3,-22.3)"/><text x="385.8" y="494.6" font-size="22.3" fill="#3F7EB8"  style="white-space:pre" transform="matrix(1 0 0 1.0407 0 -20.130)"> p=0.</text><path d="M0.373,0 L0.285,0 L0.285,0.56 C0.262,0.538 0.232,0.516 0.195,0.494 C0.158,0.472 0.125,0.456 0.097,0.445 L0.097,0.53 C0.145,0.553 0.188,0.581 0.225,0.614 C0.262,0.647 0.289,0.681 0.304,0.716 L0.373,0.716 Z" fill="#3F7EB8" transform="translate(436.02,494.6) scale(22.3,-22.3)"/><text x="448.42" y="494.6" font-size="22.3" fill="#3F7EB8"  style="white-space:pre" transform="matrix(1 0 0 1.0407 0 -20.130)">5</text></g>
<g fill="#CD4A35"><text x="625.0999999999999" y="425.7" font-size="22.3" fill="#CD4A35" font-style="italic" style="white-space:pre" transform="matrix(1 0 0 1.0407 0 -17.326)">R</text><text x="642.5999999999999" y="414.4" font-size="15.9" fill="#CD4A35"  style="white-space:pre" transform="matrix(1 0 0 1.0407 0 -16.866)">2</text><rect x="657.50" y="416.52" width="12.15" height="1.36" rx="0.6"/><rect x="657.50" y="421.47" width="12.15" height="1.36" rx="0.6"/><text x="674.8" y="425.7" font-size="22.3" fill="#CD4A35"  style="white-space:pre" transform="matrix(1 0 0 1.0407 0 -17.326)">0.44 p&lt;0.05</text></g>
<g fill="#3F7EB8"><text x="625.0999999999999" y="494.6" font-size="22.3" fill="#3F7EB8" font-style="italic" style="white-space:pre" transform="matrix(1 0 0 1.0407 0 -20.130)">R</text><text x="642.5999999999999" y="483.3" font-size="15.9" fill="#3F7EB8"  style="white-space:pre" transform="matrix(1 0 0 1.0407 0 -19.670)">2</text><rect x="657.50" y="485.42" width="12.15" height="1.36" rx="0.6"/><rect x="657.50" y="490.37" width="12.15" height="1.36" rx="0.6"/><text x="674.8" y="494.6" font-size="22.3" fill="#3F7EB8"  style="white-space:pre" transform="matrix(1 0 0 1.0407 0 -20.130)">0.</text><path d="M0.373,0 L0.285,0 L0.285,0.56 C0.262,0.538 0.232,0.516 0.195,0.494 C0.158,0.472 0.125,0.456 0.097,0.445 L0.097,0.53 C0.145,0.553 0.188,0.581 0.225,0.614 C0.262,0.647 0.289,0.681 0.304,0.716 L0.373,0.716 Z" fill="#3F7EB8" transform="translate(693.40,494.6) scale(22.3,-22.3)"/><text x="705.8" y="494.6" font-size="22.3" fill="#3F7EB8"  style="white-space:pre" transform="matrix(1 0 0 1.0407 0 -20.130)">8 p=0.</text><path d="M0.373,0 L0.285,0 L0.285,0.56 C0.262,0.538 0.232,0.516 0.195,0.494 C0.158,0.472 0.125,0.456 0.097,0.445 L0.097,0.53 C0.145,0.553 0.188,0.581 0.225,0.614 C0.262,0.647 0.289,0.681 0.304,0.716 L0.373,0.716 Z" fill="#3F7EB8" transform="translate(768.42,494.6) scale(22.3,-22.3)"/><text x="780.82" y="494.6" font-size="22.3" fill="#3F7EB8"  style="white-space:pre" transform="matrix(1 0 0 1.0407 0 -20.130)">4</text></g>
<text x="217.45" y="178.7" font-size="22.5" fill="#3F7EB8" text-anchor="middle"  style="white-space:pre" transform="matrix(1 0 0 1.0407 0 -7.273)">n=23</text>
<text x="539.65" y="178.7" font-size="22.5" fill="#3F7EB8" text-anchor="middle"  style="white-space:pre" transform="matrix(1 0 0 1.0407 0 -7.273)">n=35</text>
<text x="217.45" y="494.0" font-size="22.5" fill="#3F7EB8" text-anchor="middle"  style="white-space:pre" transform="matrix(1 0 0 1.0407 0 -20.106)">n=22</text>
<text x="539.65" y="494.0" font-size="22.5" fill="#3F7EB8" text-anchor="middle"  style="white-space:pre" transform="matrix(1 0 0 1.0407 0 -20.106)">n=32</text>
<g stroke="#000" stroke-width="2.4">
<line x1="175" y1="102.4" x2="182.5" y2="102.4"/>
<line x1="175" y1="171.2" x2="182.5" y2="171.2"/>
<line x1="175" y1="240.3" x2="182.5" y2="240.3"/>
<line x1="175" y1="309.4" x2="182.5" y2="309.4"/>
<line x1="175" y1="416.6" x2="182.5" y2="416.6"/>
<line x1="175" y1="485.2" x2="182.5" y2="485.2"/>
<line x1="175" y1="554.3" x2="182.5" y2="554.3"/>
<line x1="175" y1="623.3" x2="182.5" y2="623.3"/>
<line x1="175" y1="692.0" x2="182.5" y2="692.0"/>
<line x1="217.25" y1="706" x2="217.25" y2="713.8"/>
<line x1="277.25" y1="706" x2="277.25" y2="713.8"/>
<line x1="347.25" y1="706" x2="347.25" y2="713.8"/>
<line x1="417.5" y1="706" x2="417.5" y2="713.8"/>
<line x1="487.75" y1="706" x2="487.75" y2="713.8"/>
<line x1="539.4" y1="706" x2="539.4" y2="713.8"/>
<line x1="603.5" y1="706" x2="603.5" y2="713.8"/>
<line x1="673.75" y1="706" x2="673.75" y2="713.8"/>
<line x1="744.3" y1="706" x2="744.3" y2="713.8"/>
<line x1="814.5" y1="706" x2="814.5" y2="713.8"/>
</g>
<path d="M0.373,0 L0.285,0 L0.285,0.56 C0.262,0.538 0.232,0.516 0.195,0.494 C0.158,0.472 0.125,0.456 0.097,0.445 L0.097,0.53 C0.145,0.553 0.188,0.581 0.225,0.614 C0.262,0.647 0.289,0.681 0.304,0.716 L0.373,0.716 Z" fill="#000" transform="translate(109.87,112.8) scale(28.6,-28.6)"/><text x="125.77" y="112.8" font-size="28.6" fill="#000"  style="white-space:pre" transform="matrix(1 0 0 1.0407 0 -4.591)">2.5</text>
<path d="M0.373,0 L0.285,0 L0.285,0.56 C0.262,0.538 0.232,0.516 0.195,0.494 C0.158,0.472 0.125,0.456 0.097,0.445 L0.097,0.53 C0.145,0.553 0.188,0.581 0.225,0.614 C0.262,0.647 0.289,0.681 0.304,0.716 L0.373,0.716 Z" fill="#000" transform="translate(109.87,181.6) scale(28.6,-28.6)"/><text x="125.77" y="181.6" font-size="28.6" fill="#000"  style="white-space:pre" transform="matrix(1 0 0 1.0407 0 -7.391)">0.0</text>
<text x="117.82" y="250.7" font-size="28.6" fill="#000"  style="white-space:pre" transform="matrix(1 0 0 1.0407 0 -10.203)">7.5</text>
<text x="117.82" y="319.8" font-size="28.6" fill="#000"  style="white-space:pre" transform="matrix(1 0 0 1.0407 0 -13.016)">5.0</text>
<path d="M0.373,0 L0.285,0 L0.285,0.56 C0.262,0.538 0.232,0.516 0.195,0.494 C0.158,0.472 0.125,0.456 0.097,0.445 L0.097,0.53 C0.145,0.553 0.188,0.581 0.225,0.614 C0.262,0.647 0.289,0.681 0.304,0.716 L0.373,0.716 Z" fill="#000" transform="translate(109.87,427.0) scale(28.6,-28.6)"/><text x="125.77" y="427.0" font-size="28.6" fill="#000"  style="white-space:pre" transform="matrix(1 0 0 1.0407 0 -17.379)">0.0</text>
<text x="117.82" y="495.6" font-size="28.6" fill="#000"  style="white-space:pre" transform="matrix(1 0 0 1.0407 0 -20.171)">7.5</text>
<text x="117.82" y="564.7" font-size="28.6" fill="#000"  style="white-space:pre" transform="matrix(1 0 0 1.0407 0 -22.983)">5.0</text>
<text x="117.82" y="633.7" font-size="28.6" fill="#000"  style="white-space:pre" transform="matrix(1 0 0 1.0407 0 -25.792)">2.5</text>
<text x="117.82" y="702.4" font-size="28.6" fill="#000"  style="white-space:pre" transform="matrix(1 0 0 1.0407 0 -28.588)">0.0</text>
<text x="209.3" y="743.8" font-size="28.6" fill="#000"  style="white-space:pre" transform="matrix(1 0 0 1.0407 0 -30.273)">0</text>
<text x="269.3" y="743.8" font-size="28.6" fill="#000"  style="white-space:pre" transform="matrix(1 0 0 1.0407 0 -30.273)">0</text>
<path d="M0.373,0 L0.285,0 L0.285,0.56 C0.262,0.538 0.232,0.516 0.195,0.494 C0.158,0.472 0.125,0.456 0.097,0.445 L0.097,0.53 C0.145,0.553 0.188,0.581 0.225,0.614 C0.262,0.647 0.289,0.681 0.304,0.716 L0.373,0.716 Z" fill="#000" transform="translate(323.39,743.8) scale(28.6,-28.6)"/><text x="339.3" y="743.8" font-size="28.6" fill="#000"  style="white-space:pre" transform="matrix(1 0 0 1.0407 0 -30.273)">00</text>
<text x="393.64" y="743.8" font-size="28.6" fill="#000"  style="white-space:pre" transform="matrix(1 0 0 1.0407 0 -30.273)">200</text>
<text x="463.89" y="743.8" font-size="28.6" fill="#000"  style="white-space:pre" transform="matrix(1 0 0 1.0407 0 -30.273)">300</text>
<text x="531.45" y="743.8" font-size="28.6" fill="#000"  style="white-space:pre" transform="matrix(1 0 0 1.0407 0 -30.273)">0</text>
<text x="595.55" y="743.8" font-size="28.6" fill="#000"  style="white-space:pre" transform="matrix(1 0 0 1.0407 0 -30.273)">0</text>
<path d="M0.373,0 L0.285,0 L0.285,0.56 C0.262,0.538 0.232,0.516 0.195,0.494 C0.158,0.472 0.125,0.456 0.097,0.445 L0.097,0.53 C0.145,0.553 0.188,0.581 0.225,0.614 C0.262,0.647 0.289,0.681 0.304,0.716 L0.373,0.716 Z" fill="#000" transform="translate(649.89,743.8) scale(28.6,-28.6)"/><text x="665.8" y="743.8" font-size="28.6" fill="#000"  style="white-space:pre" transform="matrix(1 0 0 1.0407 0 -30.273)">00</text>
<text x="720.44" y="743.8" font-size="28.6" fill="#000"  style="white-space:pre" transform="matrix(1 0 0 1.0407 0 -30.273)">200</text>
<text x="790.64" y="743.8" font-size="28.6" fill="#000"  style="white-space:pre" transform="matrix(1 0 0 1.0407 0 -30.273)">300</text>
<text x="206.94580000000002" y="799.7" font-size="42.6" fill="#000"  style="white-space:pre"><tspan font-weight="bold">Residence in hypolimnion</tspan> (days)</text>
<g transform="translate(44.2,0) rotate(-90)"><g><text x="-374.25" y="0" font-size="42.6" fill="#000" font-weight="bold" transform="matrix(1 0 0 1.0407 0 0)">DOC</text><text x="-258.59" y="0" font-size="42.6" fill="#000" >(</text><text x="-231.79" y="0" font-size="42.6" fill="#000" >mg</text><text x="-162.29" y="0" font-size="42.6" fill="#000" >L</text><text x="-138.99" y="-18.6" font-size="30" fill="#000" >−</text><text x="-91.79" y="0" font-size="42.6" fill="#000" >)</text></g><path d="M0.373,0 L0.285,0 L0.285,0.56 C0.262,0.538 0.232,0.516 0.195,0.494 C0.158,0.472 0.125,0.456 0.097,0.445 L0.097,0.53 C0.145,0.553 0.188,0.581 0.225,0.614 C0.262,0.647 0.289,0.681 0.304,0.716 L0.373,0.716 Z" fill="#000" transform="translate(-120.35,-21.7) scale(30.2,-30.2)"/></g>
<g transform="translate(44.2,0) rotate(-90)"><g><text x="-694.65" y="0" font-size="42.6" fill="#000" font-weight="bold" transform="matrix(1 0 0 1.0407 0 0)">Fe</text><text x="-623.94" y="0" font-size="42.6" fill="#000" >(</text><text x="-597.14" y="0" font-size="42.6" fill="#000" >mg</text><text x="-527.64" y="0" font-size="42.6" fill="#000" >L</text><text x="-504.34" y="-18.6" font-size="30" fill="#000" >−</text><text x="-457.14" y="0" font-size="42.6" fill="#000" >)</text></g><path d="M0.373,0 L0.285,0 L0.285,0.56 C0.262,0.538 0.232,0.516 0.195,0.494 C0.158,0.472 0.125,0.456 0.097,0.445 L0.097,0.53 C0.145,0.553 0.188,0.581 0.225,0.614 C0.262,0.647 0.289,0.681 0.304,0.716 L0.373,0.716 Z" fill="#000" transform="translate(-485.69,-21.7) scale(30.2,-30.2)"/></g>
<rect x="399.7" y="834.7" width="32.3" height="32.3" fill="#D9D9D9"/>
<rect x="570.7" y="834.7" width="31.5" height="32.3" fill="#D9D9D9"/>
<circle cx="415.8" cy="850.7" r="7.2" fill="#EE5C42" stroke="#000" stroke-width="1.6"/>
<circle cx="586.4" cy="850.7" r="7.2" fill="#63B8FF" stroke="#000" stroke-width="1.6"/>
<text x="448.34499999999997" y="860.4" font-size="27.5" fill="#000"  style="white-space:pre" transform="matrix(1 0 0 1.0407 0 -35.018)">ANOXIC</text>
<text x="618.7075" y="860.4" font-size="27.5" fill="#000"  style="white-space:pre" transform="matrix(1 0 0 1.0407 0 -35.018)">OXIC</text>
</svg></body></html>
